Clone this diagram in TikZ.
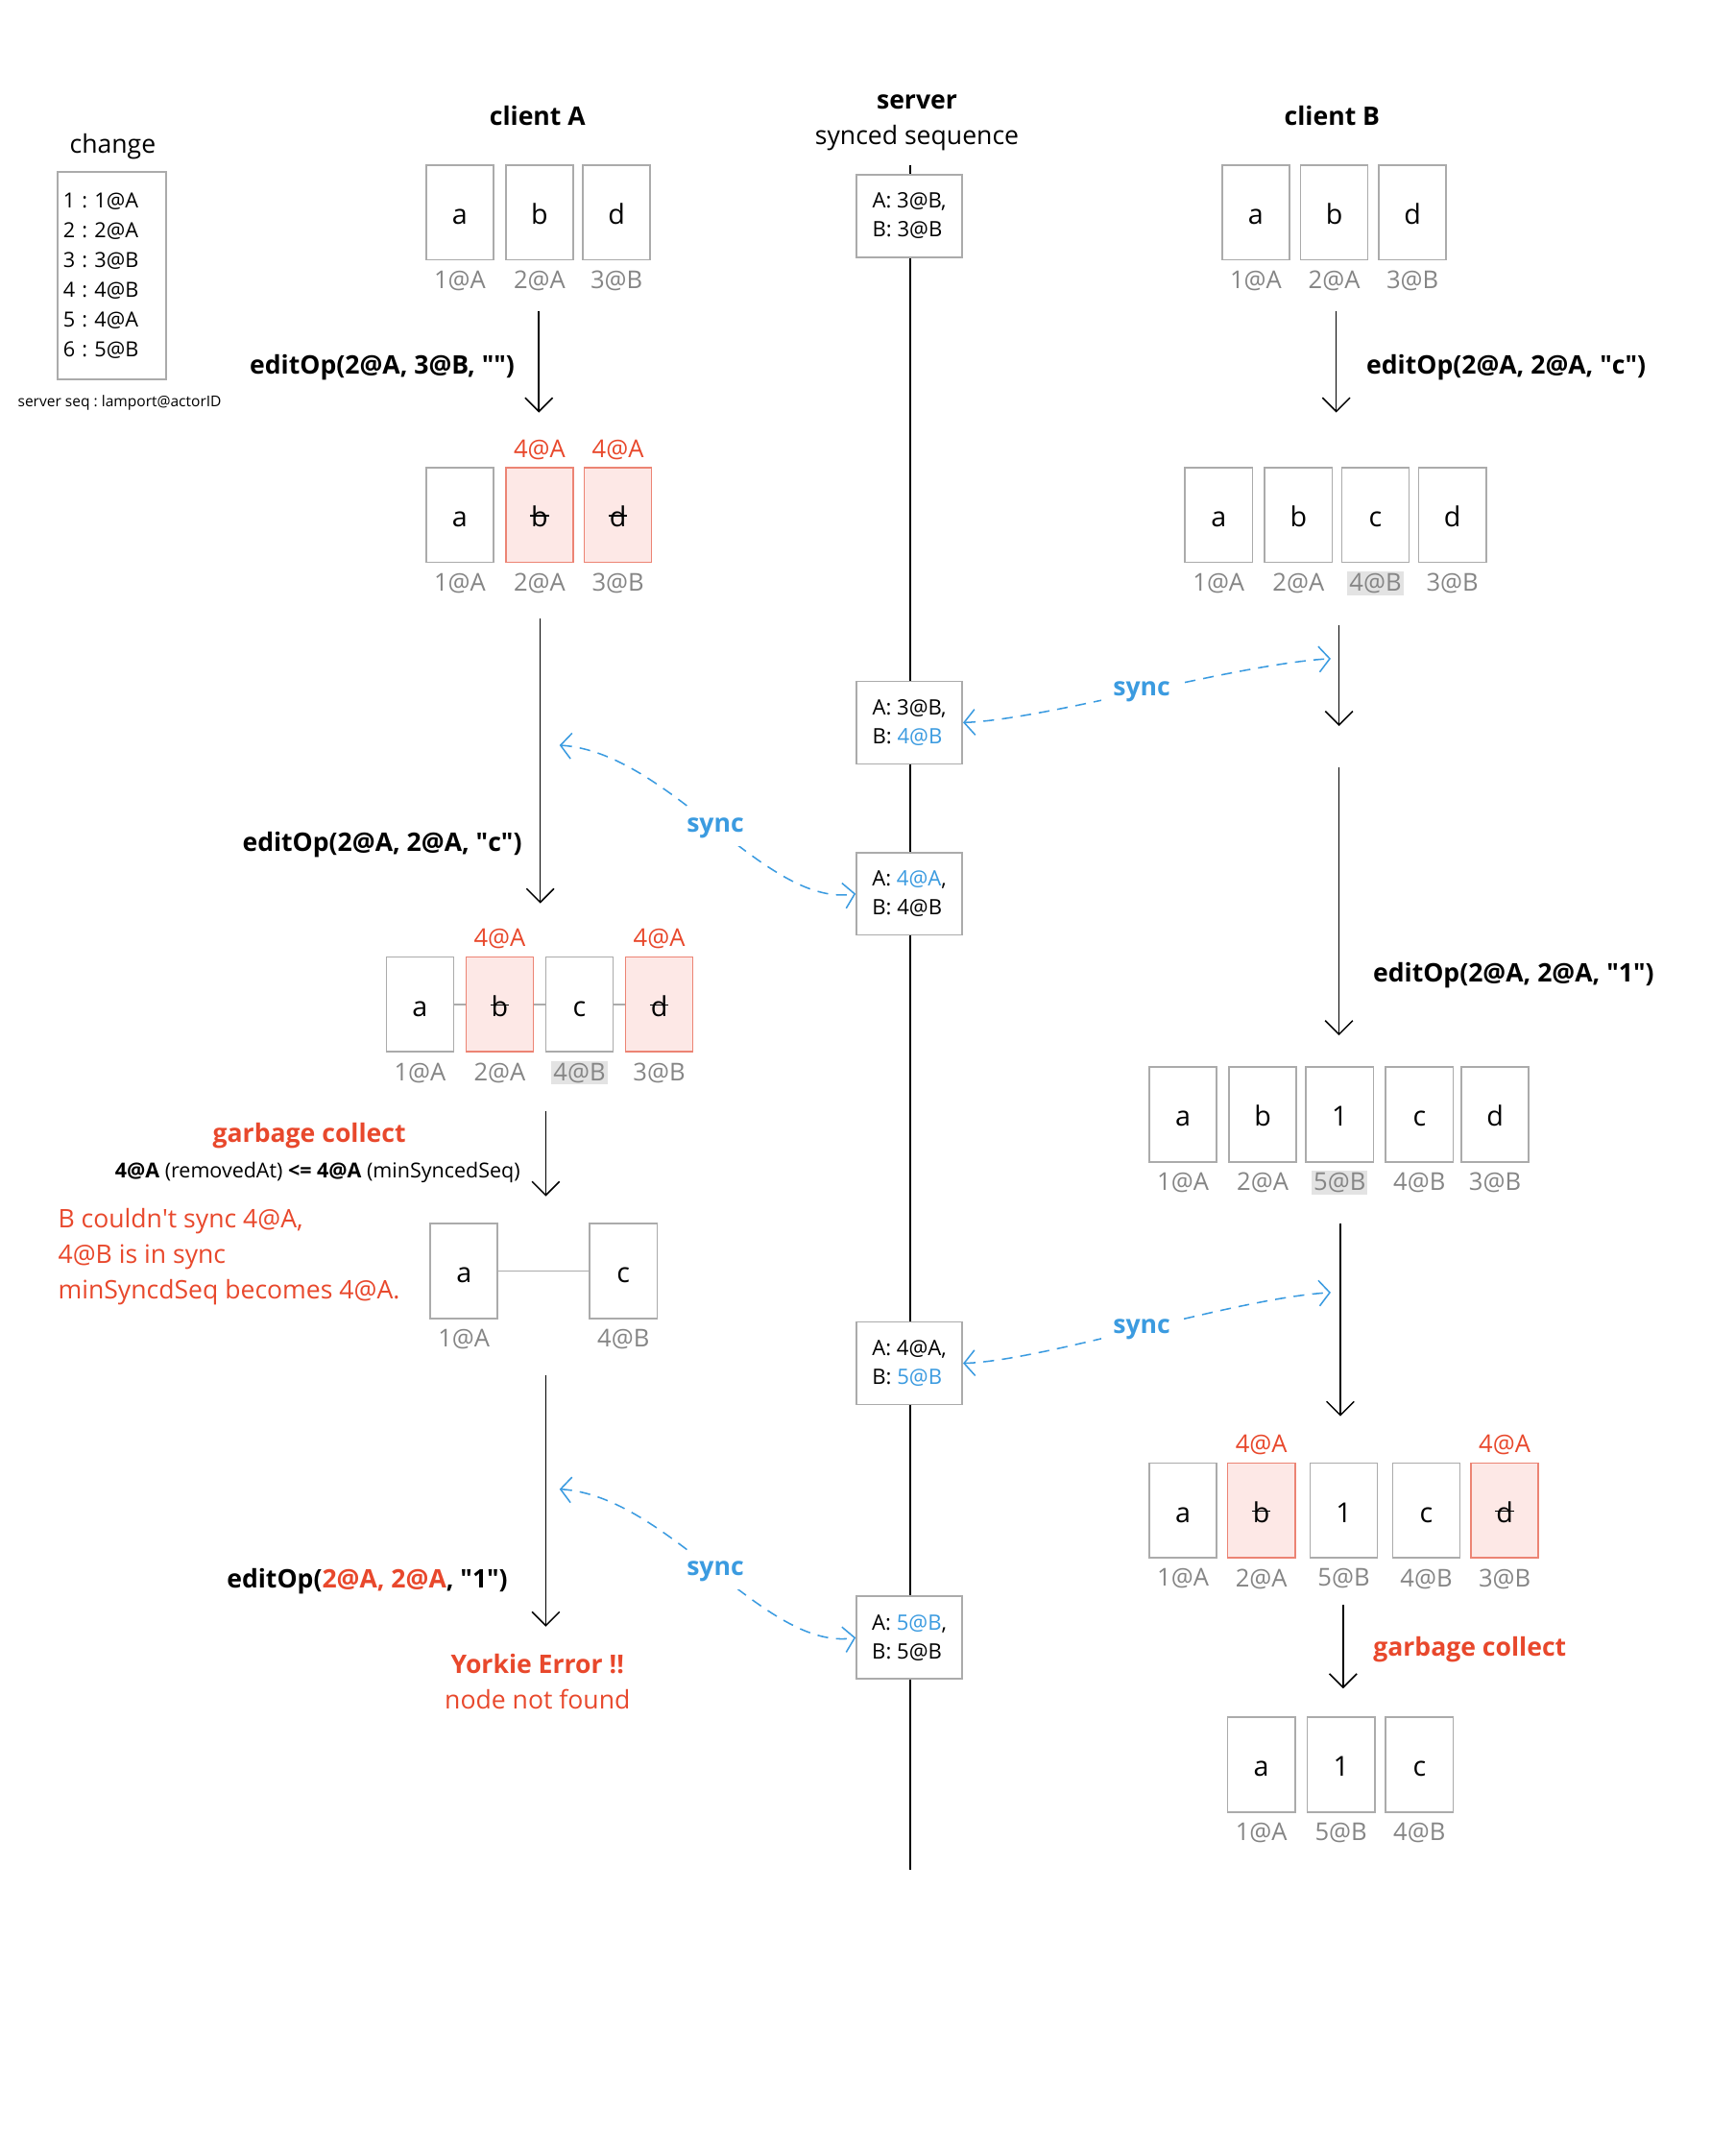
\documentclass[tikz,border=0pt]{standalone}
\usepackage{fontspec}
\setmainfont{Open Sans}
\usetikzlibrary{arrows.meta,positioning}

\definecolor{cellgray}{HTML}{ABABAB}
\definecolor{labgray}{HTML}{858585}
\definecolor{hlgray}{HTML}{E3E3E3}
\definecolor{delfill}{HTML}{FDE8E6}
\definecolor{delline}{HTML}{EC8474}
\definecolor{yred}{HTML}{E8482C}
\definecolor{syncblue}{HTML}{3B9BE0}

% struck-out letter
\newcommand\strk[1]{\ooalign{#1\cr\hidewidth\rule[0.38em]{0.68em}{0.055em}\hidewidth\cr}}
\newcommand\dq{\textquotedbl}

\tikzset{
  cell/.style={draw=cellgray, line width=0.8pt, fill=white,
    minimum width=34.3pt, minimum height=48.3pt, inner sep=0pt,
    text height=12pt, text depth=0pt, font=\fontsize{14}{16}\selectfont},
  delcell/.style={cell, draw=delline, fill=delfill},
  seq/.style={text=labgray, inner sep=1pt, font=\fontsize{12.5}{14}\selectfont},
  seqhl/.style={seq, fill=hlgray},
  rmat/.style={text=yred, inner sep=1pt, font=\fontsize{12.5}{14}\selectfont},
  head/.style={font=\fontsize{13}{18.2}\selectfont, align=center},
  op/.style={inner sep=1pt, font=\fontsize{13}{16}\selectfont\bfseries},
  gc/.style={op, text=yred},
  flow/.style={line width=0.75pt, -{Straight Barb[length=7pt,width=14pt]}},
  link/.style={draw=cellgray, line width=0.8pt},
  srvbox/.style={draw=cellgray, line width=0.8pt, fill=white,
    minimum width=53.9pt, minimum height=42pt, align=left,
    font=\fontsize{10.8}{14.7}\selectfont},
  syncarrow/.style={draw=syncblue, line width=0.75pt, dash pattern=on 5.5pt off 4pt,
    {Straight Barb[length=5.5pt,width=13pt]}-{Straight Barb[length=5.5pt,width=13pt]}},
  syncword/.style={text=syncblue, fill=white, inner xsep=6pt, inner ysep=4pt,
    font=\fontsize{13}{16}\selectfont\bfseries},
}

\begin{document}
\frenchspacing
\begin{tikzpicture}[x=0.7pt, y=-0.7pt]
  \useasboundingbox (0,0) rectangle (1244,1568);

  % legend
  \node[font=\fontsize{13}{16}\selectfont] (chg) at (82,106.5) {change};
  \node[draw=cellgray, line width=0.8pt, minimum height=105.7pt, text width=49.7pt,
    inner xsep=2.8pt, align=left, font=\fontsize{10.6}{15.1}\selectfont]
    (chgbox) at (81.5,200.5) {1 : 1@A\\2 : 2@A\\3 : 3@B\\4 : 4@B\\5 : 4@A\\6 : 5@B};
  \node[font=\fontsize{7.6}{9}\selectfont] (chgnote) at (87,293) {server seq : lamport@actorID};

  % headers
  \node[head] (hdA) at (391,84) {\textbf{client A}};
  \node[head] (hdS) at (667,89.5) {\textbf{server}\\synced sequence};
  \node[head] (hdB) at (969,84) {\textbf{client B}};

  % server
  \coordinate (srvtop) at (662,120);
  \coordinate (srvbot) at (662,1360);
  \draw[line width=0.75pt] (srvtop) -- (srvbot);
  \node[srvbox] (S1) at (661.5,157) {A: 3@B,\\B: 3@B};
  \node[srvbox] (S2) at (661.5,525.5) {A: 3@B,\\B: \textcolor{syncblue}{4@B}};
  \node[srvbox] (S3) at (661.5,650) {A: \textcolor{syncblue}{4@A},\\B: 4@B};
  \node[srvbox] (S4) at (661.5,991.5) {A: 4@A,\\B: \textcolor{syncblue}{5@B}};
  \node[srvbox] (S5) at (661.5,1191) {A: \textcolor{syncblue}{5@B},\\B: 5@B};

  % client A
  \foreach \i/\x/\st/\t/\s/\ls in {1/334.5/cell/a/1@A/seq, 2/392.5/cell/b/2@A/seq,
      3/448.5/cell/d/3@B/seq}{
    \node[\st] (A1-\i) at (\x,154.5) {\t};
    \node[\ls, below=4pt of A1-\i] (A1-\i-id) {\s};
  }
  \foreach \i/\x/\st/\t/\s/\ls in {1/334.5/cell/a/1@A/seq, 2/392.5/delcell/\strk{b}/2@A/seq,
      3/449.5/delcell/\strk{d}/3@B/seq}{
    \node[\st] (A2-\i) at (\x,374.5) {\t};
    \node[\ls, below=4pt of A2-\i] (A2-\i-id) {\s};
  }
  \node[rmat, above=2.5pt of A2-2] (A2-2-rm) {4@A};
  \node[rmat, above=2.5pt of A2-3] (A2-3-rm) {4@A};

  \foreach \i/\x/\st/\t/\s/\ls in {1/305.5/cell/a/1@A/seq, 2/363.5/delcell/\strk{b}/2@A/seq,
      3/421.5/cell/c/4@B/seqhl, 4/479.5/delcell/\strk{d}/3@B/seq}{
    \node[\st] (A3-\i) at (\x,730.5) {\t};
    \node[\ls, below=4pt of A3-\i] (A3-\i-id) {\s};
  }
  \draw[link] (A3-1) -- (A3-2);
  \draw[link] (A3-2) -- (A3-3);
  \draw[link] (A3-3) -- (A3-4);
  \node[rmat, above=2.5pt of A3-2] (A3-2-rm) {4@A};
  \node[rmat, above=2.5pt of A3-4] (A3-4-rm) {4@A};

  \foreach \i/\x/\st/\t/\s/\ls in {1/337.5/cell/a/1@A/seq, 2/453.5/cell/c/4@B/seq}{
    \node[\st] (A4-\i) at (\x,924.5) {\t};
    \node[\ls, below=4pt of A4-\i] (A4-\i-id) {\s};
  }
  \draw[link] (A4-1) -- (A4-2);

  \coordinate (fa1) at (392,226);  \coordinate (ta1) at (392,300);
  \coordinate (fa2) at (393,450);  \coordinate (ta2) at (393,657);
  \coordinate (fa3) at (397,808);  \coordinate (ta3) at (397,870);
  \coordinate (fa4) at (397,1000); \coordinate (ta4) at (397,1183);
  \draw[flow] (fa1) -- (ta1) node[op, pos=0.56, left=11pt] (opA1) {editOp(2@A, 3@B, \dq\dq)};
  \draw[flow] (fa2) -- (ta2) node[op, pos=0.795, left=8pt] (opA2) {editOp(2@A, 2@A, \dq c\dq)};
  \draw[flow] (fa3) -- (ta3);
  \draw[flow] (fa4) -- (ta4) node[op, pos=0.82, left=18pt] (opA3)
    {editOp(\textcolor{yred}{2@A, 2@A}, \dq 1\dq)};

  \node[gc] (gcA) at (225,826) {garbage collect};
  \node[inner sep=1pt, font=\fontsize{10.5}{12}\selectfont] (gcA-rule) at (231,853)
    {\textbf{4@A} (removedAt) \textbf{<=} \textbf{4@A} (minSyncedSeq)};
  \node[anchor=west, align=left, inner sep=0pt, text=yred,
    font=\fontsize{13}{18.2}\selectfont] (gcA-note) at (42,914)
    {B couldn\textquotesingle t sync 4@A,\\4@B is in sync\\minSyncdSeq becomes 4@A.};
  \node[head, text=yred] (err) at (391,1223) {\textbf{Yorkie Error !!}\\node not found};

  % client B
  \foreach \i/\x/\st/\t/\s/\ls in {1/913.5/cell/a/1@A/seq, 2/970.5/cell/b/2@A/seq,
      3/1027.5/cell/d/3@B/seq}{
    \node[\st] (B1-\i) at (\x,154.5) {\t};
    \node[\ls, below=4pt of B1-\i] (B1-\i-id) {\s};
  }
  \foreach \i/\x/\st/\t/\s/\ls in {1/886.5/cell/a/1@A/seq, 2/944.5/cell/b/2@A/seq,
      3/1000.5/cell/c/4@B/seqhl, 4/1056.5/cell/d/3@B/seq}{
    \node[\st] (B2-\i) at (\x,374.5) {\t};
    \node[\ls, below=4pt of B2-\i] (B2-\i-id) {\s};
  }
  \foreach \i/\x/\st/\t/\s/\ls in {1/860.5/cell/a/1@A/seq, 2/918.5/cell/b/2@A/seq,
      3/974.5/cell/1/5@B/seqhl, 4/1032.5/cell/c/4@B/seq, 5/1087.5/cell/d/3@B/seq}{
    \node[\st] (B3-\i) at (\x,810.5) {\t};
    \node[\ls, below=4pt of B3-\i] (B3-\i-id) {\s};
  }
  \foreach \i/\x/\st/\t/\s/\ls in {1/860.5/cell/a/1@A/seq, 2/917.5/delcell/\strk{b}/2@A/seq,
      3/977.5/cell/1/5@B/seq, 4/1037.5/cell/c/4@B/seq, 5/1094.5/delcell/\strk{d}/3@B/seq}{
    \node[\st] (B4-\i) at (\x,1098.5) {\t};
    \node[\ls, below=4pt of B4-\i] (B4-\i-id) {\s};
  }
  \node[rmat, above=2.5pt of B4-2] (B4-2-rm) {4@A};
  \node[rmat, above=2.5pt of B4-5] (B4-5-rm) {4@A};
  \foreach \i/\x/\st/\t/\s/\ls in {1/917.5/cell/a/1@A/seq, 2/975.5/cell/1/5@B/seq,
      3/1032.5/cell/c/4@B/seq}{
    \node[\st] (B5-\i) at (\x,1283.5) {\t};
    \node[\ls, below=4pt of B5-\i] (B5-\i-id) {\s};
  }

  \coordinate (fb1) at (972,226);  \coordinate (tb1) at (972,300);
  \coordinate (fb2) at (974,455);  \coordinate (tb2) at (974,528);
  \coordinate (fb3) at (974,558);  \coordinate (tb3) at (974,753);
  \coordinate (fb4) at (975,890);  \coordinate (tb4) at (975,1030);
  \coordinate (fb5) at (977,1167); \coordinate (tb5) at (977,1228);
  \draw[flow] (fb1) -- (tb1) node[op, pos=0.56, right=14pt] (opB1) {editOp(2@A, 2@A, \dq c\dq)};
  \draw[flow] (fb2) -- (tb2);
  \draw[flow] (fb3) -- (tb3) node[op, pos=0.775, right=16pt] (opB2) {editOp(2@A, 2@A, \dq 1\dq)};
  \draw[flow] (fb4) -- (tb4);
  \draw[flow] (fb5) -- (tb5) node[gc, pos=0.53, right=14pt] (gcB) {garbage collect};

  % sync
  \coordinate (sB1) at (968,479);
  \coordinate (sA1) at (407,542);
  \coordinate (sB2) at (968,940);
  \coordinate (sA2) at (407,1083);
  \draw[syncarrow] (S2.east) .. controls +(60,-2) and +(-70,4) .. (sB1)
    node[syncword, midway] (sync1) {sync};
  \draw[syncarrow] (sA1) .. controls +(80,5) and +(-65,11) .. (S3.west)
    node[syncword, midway] (sync2) {sync};
  \draw[syncarrow] (S4.east) .. controls +(60,-2) and +(-70,4) .. (sB2)
    node[syncword, midway] (sync3) {sync};
  \draw[syncarrow] (sA2) .. controls +(80,5) and +(-65,11) .. (S5.west)
    node[syncword, midway] (sync4) {sync};
\end{tikzpicture}
\end{document}
